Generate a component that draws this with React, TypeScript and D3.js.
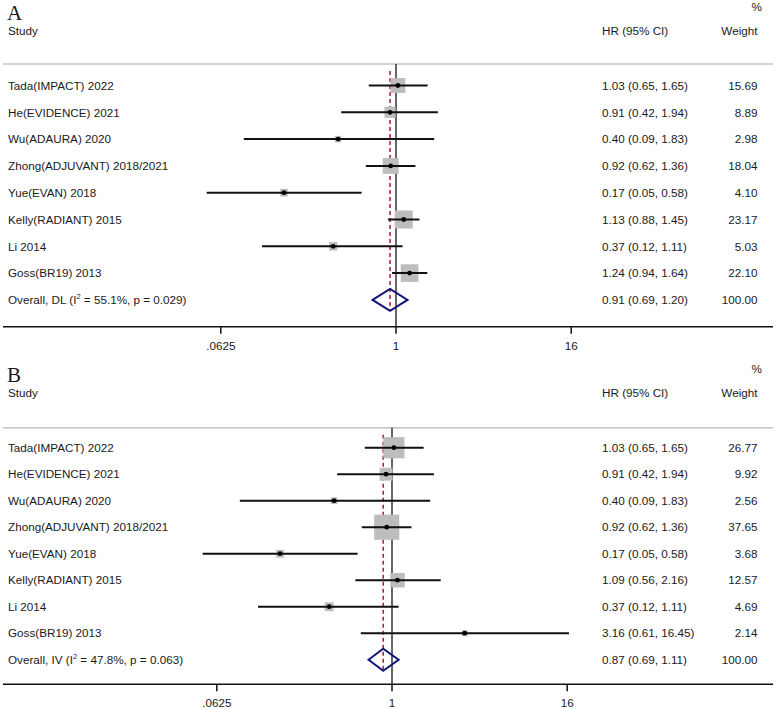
import React from "react";
import * as d3 from "d3";

const studies = [
  "Tada(IMPACT) 2022",
  "He(EVIDENCE) 2021",
  "Wu(ADAURA) 2020",
  "Zhong(ADJUVANT) 2018/2021",
  "Yue(EVAN) 2018",
  "Kelly(RADIANT) 2015",
  "Li 2014",
  "Goss(BR19) 2013",
];

const hrA = [1.03, 0.91, 0.4, 0.92, 0.17, 1.13, 0.37, 1.24];
const loA = [0.65, 0.42, 0.09, 0.62, 0.05, 0.88, 0.12, 0.94];
const hiA = [1.65, 1.94, 1.83, 1.36, 0.58, 1.45, 1.11, 1.64];
const wA = [15.69, 8.89, 2.98, 18.04, 4.1, 23.17, 5.03, 22.1];
const overallA = { hr: 0.91, lo: 0.69, hi: 1.2, method: "DL", i2: "55.1", p: "0.029" };

const hrB = [1.03, 0.91, 0.4, 0.92, 0.17, 1.09, 0.37, 3.16];
const loB = [0.65, 0.42, 0.09, 0.62, 0.05, 0.56, 0.12, 0.61];
const hiB = [1.65, 1.94, 1.83, 1.36, 0.58, 2.16, 1.11, 16.45];
const wB = [26.77, 9.92, 2.56, 37.65, 3.68, 12.57, 4.69, 2.14];
const overallB = { hr: 0.87, lo: 0.69, hi: 1.11, method: "IV", i2: "47.8", p: "0.063" };

const tickValues = [0.0625, 1, 16];
const tickLabels = [".0625", "1", "16"];

const FONT = "'Liberation Sans', Arial, Helvetica, sans-serif";
const TXT = "#1a1a1a";
const FS = 11.7;

type PanelProps = {
  label: string;
  off: number;
  hr: number[];
  lo: number[];
  hi: number[];
  w: number[];
  overall: typeof overallA;
  x1: number;
  rowTop: number;
  rowStep: number;
  sepY: number;
  axisY: number;
  boxK: number;
};

const f2 = (v: number) => v.toFixed(2);

function Panel(p: PanelProps) {
  const pxPerLog2 = 43.8;
  const x = d3
    .scaleLog()
    .base(2)
    .domain([0.0625, 16])
    .range([p.x1 - 4 * pxPerLog2, p.x1 + 4 * pxPerLog2]);
  const y = (i: number) => p.rowTop + i * p.rowStep;
  const n = studies.length;
  const oy = y(n);
  const dh = 11;
  const o = p.overall;
  const diamond = d3.line()([
    [x(o.lo), oy],
    [x(o.hr), oy - dh],
    [x(o.hi), oy],
    [x(o.hr), oy + dh],
  ]) + "Z";
  return (
    <g>
      <text x={7} y={p.off + 20} fontFamily="'Liberation Serif', 'Times New Roman', serif" fontSize={21} fill={TXT}>
        {p.label}
      </text>
      <text x={762} y={p.off + 10.5} fontFamily={FONT} fontSize={FS} fill={TXT} textAnchor="end">%</text>
      <text x={8} y={p.off + 35} fontFamily={FONT} fontSize={FS} fill={TXT}>Study</text>
      <text x={602} y={p.off + 35} fontFamily={FONT} fontSize={FS} fill={TXT}>HR (95% CI)</text>
      <text x={757.5} y={p.off + 35} fontFamily={FONT} fontSize={FS} fill={TXT} textAnchor="end">Weight</text>
      <line x1={3} x2={773} y1={p.sepY} y2={p.sepY} stroke="#c4c4c4" strokeWidth={1.5} />
      <line x1={x(1)} x2={x(1)} y1={p.sepY} y2={p.axisY} stroke="#333" strokeWidth={1.5} />
      <line
        x1={x(o.hr)}
        x2={x(o.hr)}
        y1={p.sepY + 7}
        y2={oy + dh}
        stroke="#a81e2a"
        strokeWidth={1.5}
        strokeDasharray="4,3"
      />
      {studies.map((s, i) => {
        const side = p.boxK * Math.sqrt(p.w[i]);
        const cx = x(p.hr[i]);
        return (
          <g key={s}>
            <rect x={cx - side / 2} y={y(i) - side / 2} width={side} height={side} fill="#bdbdbd" />
            <line x1={x(p.lo[i])} x2={x(p.hi[i])} y1={y(i)} y2={y(i)} stroke="#111" strokeWidth={2} />
            <circle cx={cx} cy={y(i)} r={2.4} fill="#000" />
            <text x={8} y={y(i) + 4.2} fontFamily={FONT} fontSize={FS} fill={TXT}>{s}</text>
            <text x={602} y={y(i) + 4.2} fontFamily={FONT} fontSize={FS} fill={TXT}>
              {`${f2(p.hr[i])} (${f2(p.lo[i])}, ${f2(p.hi[i])})`}
            </text>
            <text x={757.5} y={y(i) + 4.2} fontFamily={FONT} fontSize={FS} fill={TXT} textAnchor="end">
              {f2(p.w[i])}
            </text>
          </g>
        );
      })}
      <path d={diamond} fill="none" stroke="#14147a" strokeWidth={2} />
      <text x={8} y={oy + 4.2} fontFamily={FONT} fontSize={FS} fill={TXT}>
        {`Overall, ${o.method} (I`}
        <tspan fontSize={7.5} dy={-5}>2</tspan>
        <tspan dy={5}>{` = ${o.i2}%, p = ${o.p})`}</tspan>
      </text>
      <text x={602} y={oy + 4.2} fontFamily={FONT} fontSize={FS} fill={TXT}>
        {`${f2(o.hr)} (${f2(o.lo)}, ${f2(o.hi)})`}
      </text>
      <text x={757.5} y={oy + 4.2} fontFamily={FONT} fontSize={FS} fill={TXT} textAnchor="end">100.00</text>
      <line x1={3} x2={773} y1={p.axisY} y2={p.axisY} stroke="#111" strokeWidth={1.5} />
      {tickValues.map((t, i) => (
        <g key={t}>
          <line x1={x(t)} x2={x(t)} y1={p.axisY} y2={p.axisY + 7} stroke="#111" strokeWidth={1.5} />
          <text x={x(t)} y={p.axisY + 23} fontFamily={FONT} fontSize={FS} fill={TXT} textAnchor="middle">
            {tickLabels[i]}
          </text>
        </g>
      ))}
    </g>
  );
}

export default function App() {
  return (
    <svg
      width={777}
      height={709}
      style={{ position: "absolute", left: 0, top: 0, background: "#fff" }}
    >
      <rect width={777} height={709} fill="#fff" />
      <Panel
        label="A"
        off={0}
        hr={hrA}
        lo={loA}
        hi={hiA}
        w={wA}
        overall={overallA}
        x1={396}
        rowTop={85.5}
        rowStep={26.8}
        sepY={64}
        axisY={326.7}
        boxK={3.75}
      />
      <Panel
        label="B"
        off={362}
        hr={hrB}
        lo={loB}
        hi={hiB}
        w={wB}
        overall={overallB}
        x1={392}
        rowTop={447.7}
        rowStep={26.5}
        sepY={427.7}
        axisY={684.3}
        boxK={4.1}
      />
    </svg>
  );
}
